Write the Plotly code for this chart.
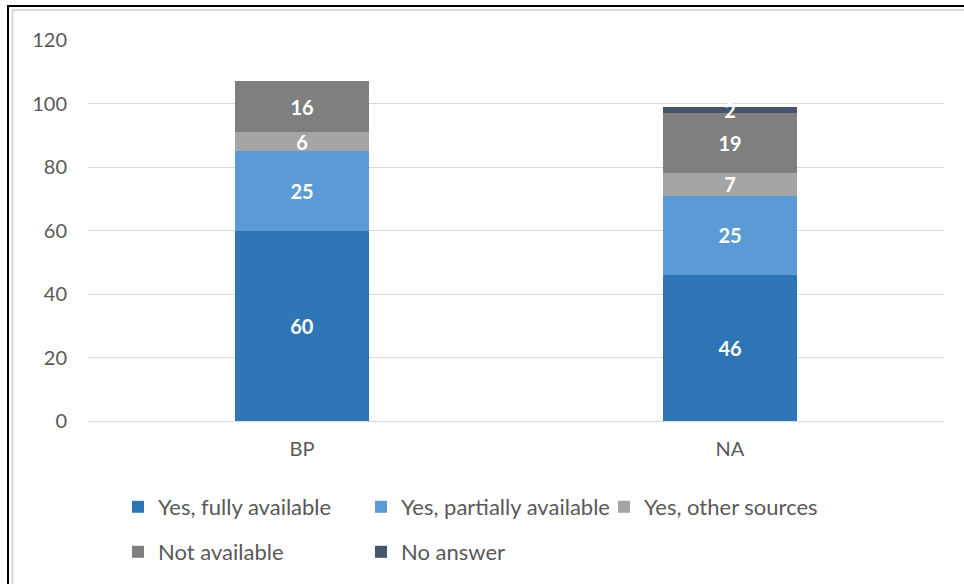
import plotly.graph_objects as go

categories = ["BP", "NA"]
series_names = ["Yes, fully available", "Yes, partially available", "Yes, other sources",
                "Not available", "No answer"]
fully = [60, 46]
partially = [25, 25]
other = [6, 7]
not_avail = [16, 19]
no_answer = [None, 2]
y_ticks = [0, 20, 40, 60, 80, 100, 120]

values = [fully, partially, other, not_avail, no_answer]
colors = ["#2E75B6", "#5B9BD5", "#A5A5A5", "#7F7F7F", "#44546A"]

W, H = 964, 584
L, R, T, B = 88, 20, 40, 162
pw, ph = W - L - R, H - T - B

def px(x):
    return (x - L) / pw

def py(y):
    return (H - B - y) / ph

FONT = "Lato, 'Open Sans', sans-serif"
TXT = "#595959"

fig = go.Figure()
legend_keys = ["legend", "legend2", "legend3", "legend4", "legend5"]
for name, vals, col, lk in zip(series_names, values, colors, legend_keys):
    fig.add_trace(go.Bar(
        x=categories, y=vals, name=name, legend=lk,
        marker=dict(color=col, line=dict(width=0)),
        text=[("" if v is None else str(v)) for v in vals],
        textposition="inside", insidetextanchor="middle", textangle=0,
        constraintext="none",
        textfont=dict(color="white", size=20, family=FONT, weight="bold"),
        hoverinfo="skip",
    ))

legend_pos = [(118, 507), (361, 507), (604, 507), (118, 552), (361, 552)]
layout_legends = {}
for lk, (lx, ly) in zip(legend_keys, legend_pos):
    layout_legends[lk] = dict(
        x=px(lx), y=py(ly), xanchor="left", yanchor="middle",
        orientation="h", bgcolor="rgba(0,0,0,0)",
        font=dict(family=FONT, size=22, color=TXT),
    )

shapes = [
    # outer frame (top and left), dark line
    dict(type="line", xref="paper", yref="paper", x0=px(8), x1=px(W + 2), y0=py(6), y1=py(6),
         line=dict(color="#000000", width=2)),
    dict(type="line", xref="paper", yref="paper", x0=px(8), x1=px(8), y0=py(5), y1=py(H + 2),
         line=dict(color="#000000", width=2)),
    # inner light frame
    dict(type="line", xref="paper", yref="paper", x0=px(12.5), x1=px(W + 2), y0=py(10), y1=py(10),
         line=dict(color="#D9D9D9", width=2)),
    dict(type="line", xref="paper", yref="paper", x0=px(12.5), x1=px(12.5), y0=py(10), y1=py(H + 2),
         line=dict(color="#D9D9D9", width=2)),
]

fig.update_layout(
    width=W, height=H,
    margin=dict(l=L, r=R, t=T, b=B, pad=0),
    paper_bgcolor="white", plot_bgcolor="white",
    barmode="stack", bargap=0.687,
    showlegend=True,
    shapes=shapes,
    font=dict(family=FONT, color=TXT),
    xaxis=dict(
        type="category", showgrid=False, zeroline=False, showline=False,
        ticks="", tickfont=dict(family=FONT, size=20, color=TXT),
        ticklabelstandoff=14,
    ),
    yaxis=dict(
        range=[0, 120], tickvals=y_ticks, showgrid=True, gridcolor="#D9D9D9", gridwidth=1.3,
        zeroline=True, zerolinecolor="#D9D9D9", zerolinewidth=1.3, showline=False,
        ticks="", tickfont=dict(family=FONT, size=20, color=TXT),
        ticklabelstandoff=20,
    ),
    **layout_legends,
)

fig.write_html(
    "out.html",
    config={"displayModeBar": False},
    post_script="document.body.style.margin='0';document.body.style.padding='0';",
)
